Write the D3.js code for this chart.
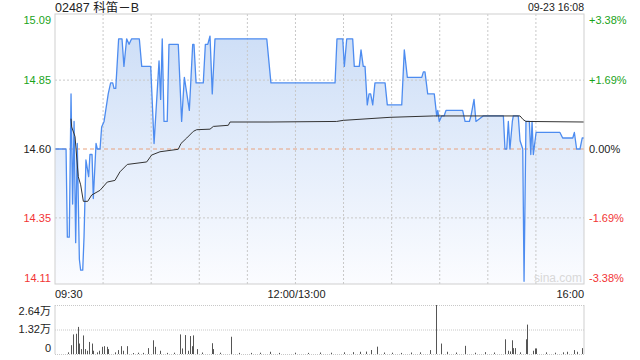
<!DOCTYPE html>
<html>
<head>
<meta charset="utf-8">
<script src="https://cdn.jsdelivr.net/npm/d3@7"></script>
<style>
  html, body { margin: 0; padding: 0; background: #fff; }
  svg { display: block; font-family: "Liberation Sans", Arial, sans-serif; }
</style>
</head>
<body>
<div id="container"></div>
<script>
// chart size
const width = 640;
const height = 360;

// header texts
const title = "02487 科笛－B";
const stamp = "09-23 16:08";

// previous close and tick labels
const prevClose = 14.60;
const priceTicks = [15.09, 14.85, 14.60, 14.35, 14.11];
const pctTicks = ["+3.38%", "+1.69%", "0.00%", "-1.69%", "-3.38%"];
const timeLabels = ["09:30", "12:00/13:00", "16:00"];
const timeLabelPos = [0, 150, 330];
const volTicks = [26400, 13200, 0];
const volTickLabels = ["2.64万", "1.32万", "0"];

// price line: minute index from 09:30 (trading minutes) and price
const priceTime = [0, 6.9, 7.7, 8.9, 10, 11, 11.9, 12.9, 13.9, 15.2, 16, 17.3, 18.1, 19.3, 21, 21.8, 23.1, 23.9, 25.6, 26.4,
  28.1, 29.1, 30.6, 33.2, 34.7, 36, 36.8, 37.9, 39.7, 41.8, 43, 44.7, 46.2, 47.8, 52.6, 54.1, 59.7, 61.8, 64.9, 65.9,
  66.9, 68, 70, 71.1, 76.9, 79, 80.7, 83.8, 85.9, 86.7, 88, 92.5, 93.8, 95.3, 96.7, 98.1, 99.8, 132.1, 134.7, 174.7,
  175.9, 179.5, 180.5, 182, 185.7, 186.7, 189.8, 190.9, 192.3, 193.4, 194.8, 195.9, 196.9, 198.2, 199.6, 205.9, 207.3, 216.3, 217.9, 219.8,
  228.8, 229.8, 230.8, 232.5, 236.6, 238.1, 238.8, 239.7, 241.2, 242.7, 243.9, 254.3, 255.8, 258.5, 259.5, 261.4, 262.6, 267.1, 279.7, 280.7,
  281.8, 282.8, 283.8, 285.3, 285.9, 289, 290.1, 291.8, 292.6, 293.8, 295.9, 296.8, 297.6, 298.4, 300.1, 315, 316.7, 323, 324, 325.4,
  327.5, 328.9, 330];
const priceVal = [14.60, 14.60, 14.28, 14.28, 14.80, 14.40, 14.70, 14.26, 14.62, 14.20, 14.16, 14.16, 14.28, 14.56, 14.50, 14.58, 14.58, 14.42, 14.62, 14.60,
  14.60, 14.68, 14.70, 14.80, 14.84, 14.84, 14.82, 14.82, 15.00, 15.00, 14.90, 15.00, 14.98, 15.00, 15.00, 14.90, 14.90, 14.62, 14.92, 14.78,
  15.00, 14.70, 14.70, 14.98, 14.98, 14.70, 14.86, 14.74, 14.98, 14.98, 14.84, 14.84, 14.98, 14.98, 15.01, 14.80, 15.00, 15.00, 14.84, 14.84,
  15.00, 15.00, 14.90, 15.00, 15.00, 14.90, 14.90, 14.96, 14.90, 14.90, 14.76, 14.80, 14.80, 14.76, 14.84, 14.84, 14.76, 14.76, 14.96, 14.86,
  14.86, 14.88, 14.88, 14.80, 14.80, 14.72, 14.74, 14.70, 14.72, 14.72, 14.74, 14.74, 14.70, 14.70, 14.72, 14.78, 14.70, 14.72, 14.72, 14.60,
  14.60, 14.70, 14.60, 14.70, 14.72, 14.72, 14.63, 14.60, 14.12, 14.70, 14.70, 14.58, 14.70, 14.58, 14.66, 14.66, 14.64, 14.64, 14.66, 14.60,
  14.60, 14.64, 14.64];

// average price line
const avgTime = [10, 10.4, 12.5, 14.5, 16, 17.7, 20.4, 22.9, 28.1, 32.6, 37.4, 40.5, 45.1, 57.2, 60.3, 65.5, 76.9, 78.6, 82.2, 86.3,
  88.4, 96.7, 98.8, 108.1, 109.2, 134.1, 175.7, 179.8, 209, 236, 290.1, 292, 293.8, 330];
const avgVal = [14.71, 14.68, 14.645, 14.50, 14.47, 14.41, 14.41, 14.433, 14.45, 14.48, 14.486, 14.517, 14.544, 14.553, 14.578, 14.59, 14.599, 14.62, 14.64, 14.664,
  14.67, 14.672, 14.682, 14.686, 14.698, 14.698, 14.70, 14.704, 14.715, 14.72, 14.72, 14.707, 14.70, 14.698];

// volume bars: minute index and shares
const volTime = [7.9, 10, 11.4, 12.9, 14.3, 15.2, 16.2, 17.7, 18.7, 19.8, 21.4, 22.9, 23.9, 26, 27.7, 29.1, 30.6, 32.2, 33.3, 37.4,
  39.5, 41.2, 42.6, 45.1, 48.8, 52, 55, 58.2, 61.3, 62.4, 65.5, 70, 74, 78, 79.4, 81.1, 83.2, 84.2, 85.7, 86.3,
  88.4, 92, 97.7, 98.8, 103, 109.8, 115, 122, 128, 134.1, 140, 150, 158, 165, 172, 180, 186, 190, 194, 197.3,
  200.6, 205, 210, 216, 222, 228, 234, 237.7, 240.6, 244.3, 250, 255.8, 262, 268.2, 274, 280.9, 282.8, 283.8, 285.3, 285.9,
  287.1, 290, 293.6, 294.2, 298.4, 299.4, 300.1, 306.1, 312, 317.1, 319.2, 324, 325.4, 328.7];
const volVal = [900, 4750, 10560, 10900, 14600, 5630, 2640, 10000, 2640, 1760, 6500, 5630, 1760, 880, 1760, 3870, 4220, 3870, 2640, 880,
  2110, 4220, 1760, 4220, 530, 700, 600, 3170, 7390, 3870, 1760, 600, 700, 10560, 2990, 10200, 1760, 9680, 4220, 10030,
  2640, 800, 5810, 2640, 700, 9300, 600, 600, 700, 1200, 600, 700, 600, 800, 700, 900, 1000, 1200, 1300, 2150,
  3950, 800, 700, 600, 800, 900, 2110, 26400, 5630, 1200, 800, 4400, 700, 1000, 800, 7920, 1760, 1400, 7390, 3170,
  3170, 900, 7920, 15840, 1760, 3000, 3000, 900, 700, 900, 1200, 2110, 1200, 3170];

const green = "#1aa31a";
const red = "#f23535";

const svg = d3.select("#container")
  .append("svg")
  .attr("width", width)
  .attr("height", height);

// scales
const x = d3.scaleLinear().domain([0, 330]).range([55, 584]);
const y = d3.scaleLinear().domain([14.11, 15.09]).range([284, 14]);
const yv = d3.scaleLinear().domain([0, 26400]).range([354, 305]);

// gradient for the price area
const grad = svg.append("defs").append("linearGradient")
  .attr("id", "areaGrad")
  .attr("gradientUnits", "userSpaceOnUse")
  .attr("x1", 0).attr("y1", y(15.09))
  .attr("x2", 0).attr("y2", y(14.11));
grad.append("stop").attr("offset", 0).attr("stop-color", "#cadcf6");
grad.append("stop").attr("offset", 1).attr("stop-color", "#fbfcff");

// header
svg.append("text")
  .attr("x", 55).attr("y", 12)
  .attr("font-size", 12.5).attr("fill", "#222")
  .attr("font-family", "'Liberation Sans', 'Noto Sans CJK SC', sans-serif")
  .text(title);
svg.append("text")
  .attr("x", 584).attr("y", 11)
  .attr("text-anchor", "end")
  .attr("font-size", 10.5).attr("fill", "#222")
  .text(stamp);

// price area and lines
const pricePts = priceTime.map((t, i) => [t, priceVal[i]]);
const avgPts = avgTime.map((t, i) => [t, avgVal[i]]);

svg.append("path")
  .datum(pricePts)
  .attr("fill", "url(#areaGrad)")
  .attr("d", d3.area().x(d => x(d[0])).y0(y(14.11)).y1(d => y(d[1])));

// gridlines
const grid = svg.append("g");
grid.selectAll(".vgrid")
  .data(d3.range(30, 330, 30))
  .enter()
  .append("line")
  .attr("x1", d => x(d)).attr("x2", d => x(d))
  .attr("y1", y(15.09)).attr("y2", y(14.11))
  .attr("stroke", "#c8c8c8")
  .attr("stroke-dasharray", "2,2");
grid.selectAll(".hgrid")
  .data([priceTicks[1], priceTicks[3]])
  .enter()
  .append("line")
  .attr("x1", 55).attr("x2", 584)
  .attr("y1", d => y(d)).attr("y2", d => y(d))
  .attr("stroke", "#c8c8c8")
  .attr("stroke-dasharray", "2,2");
grid.append("line")
  .attr("x1", 55).attr("x2", 584)
  .attr("y1", y(prevClose)).attr("y2", y(prevClose))
  .attr("stroke", "#e8a27e")
  .attr("stroke-dasharray", "4,3");

// watermark
svg.append("text")
  .attr("x", 582).attr("y", 282)
  .attr("text-anchor", "end")
  .attr("font-size", 12).attr("fill", "#d8d8d8")
  .text("sina.com");

svg.append("path")
  .datum(pricePts)
  .attr("fill", "none")
  .attr("stroke", "#4d8cf0")
  .attr("stroke-width", 1.3)
  .attr("stroke-linejoin", "round")
  .attr("d", d3.line().x(d => x(d[0])).y(d => y(d[1])));

svg.append("path")
  .datum(avgPts)
  .attr("fill", "none")
  .attr("stroke", "#333")
  .attr("stroke-width", 1)
  .attr("d", d3.line().x(d => x(d[0])).y(d => y(d[1])));

// main frame
svg.append("rect")
  .attr("x", 55).attr("y", y(15.09))
  .attr("width", 584 - 55).attr("height", y(14.11) - y(15.09))
  .attr("fill", "none")
  .attr("stroke", "#cfcfcf");

// y labels
const tickColor = i => i < 2 ? green : (i == 2 ? "#222" : red);
const labelY = d => Math.max(20, Math.min(278, y(d)));
svg.append("g")
  .attr("font-size", 11)
  .selectAll("text")
  .data(priceTicks)
  .enter()
  .append("text")
  .attr("x", 51)
  .attr("y", d => labelY(d))
  .attr("dy", "0.35em")
  .attr("text-anchor", "end")
  .attr("fill", (d, i) => tickColor(i))
  .text(d => d.toFixed(2));
svg.append("g")
  .attr("font-size", 11)
  .selectAll("text")
  .data(pctTicks)
  .enter()
  .append("text")
  .attr("x", 589)
  .attr("y", (d, i) => labelY(priceTicks[i]))
  .attr("dy", "0.35em")
  .attr("fill", (d, i) => tickColor(i))
  .text(d => d);

// time labels
svg.append("g")
  .attr("font-size", 11)
  .selectAll("text")
  .data(timeLabels)
  .enter()
  .append("text")
  .attr("x", (d, i) => x(timeLabelPos[i]) + (i == 1 ? 1 : 0))
  .attr("y", 298)
  .attr("text-anchor", (d, i) => ["start", "middle", "end"][i])
  .attr("fill", "#222")
  .text(d => d);

// volume panel
const vol = svg.append("g");
vol.selectAll(".vgridline")
  .data(volTicks)
  .enter()
  .append("line")
  .attr("x1", 55).attr("x2", 584)
  .attr("y1", d => yv(d) + 0.5).attr("y2", d => yv(d) + 0.5)
  .attr("stroke", "#c8c8c8")
  .attr("stroke-dasharray", "1,1");
vol.selectAll(".side")
  .data([55, 584])
  .enter()
  .append("line")
  .attr("x1", d => d).attr("x2", d => d)
  .attr("y1", yv(26400)).attr("y2", yv(0))
  .attr("stroke", "#cfcfcf");
vol.selectAll("rect")
  .data(volTime)
  .enter()
  .append("rect")
  .attr("x", d => Math.round(x(d)))
  .attr("width", 1)
  .attr("y", (d, i) => yv(volVal[i]))
  .attr("height", (d, i) => yv(0) - yv(volVal[i]))
  .attr("fill", "#555");

// volume labels: top and bottom pulled inside the panel
const volLabelY = d => Math.max(311, Math.min(348, yv(d)));
svg.append("g")
  .attr("font-size", 11)
  .selectAll("text")
  .data(volTickLabels)
  .enter()
  .append("text")
  .attr("x", 51)
  .attr("y", (d, i) => volLabelY(volTicks[i]))
  .attr("dy", "0.35em")
  .attr("text-anchor", "end")
  .attr("font-family", "'Liberation Sans', 'Noto Sans CJK SC', sans-serif")
  .attr("fill", "#222")
  .text(d => d);
</script>
</body>
</html>
